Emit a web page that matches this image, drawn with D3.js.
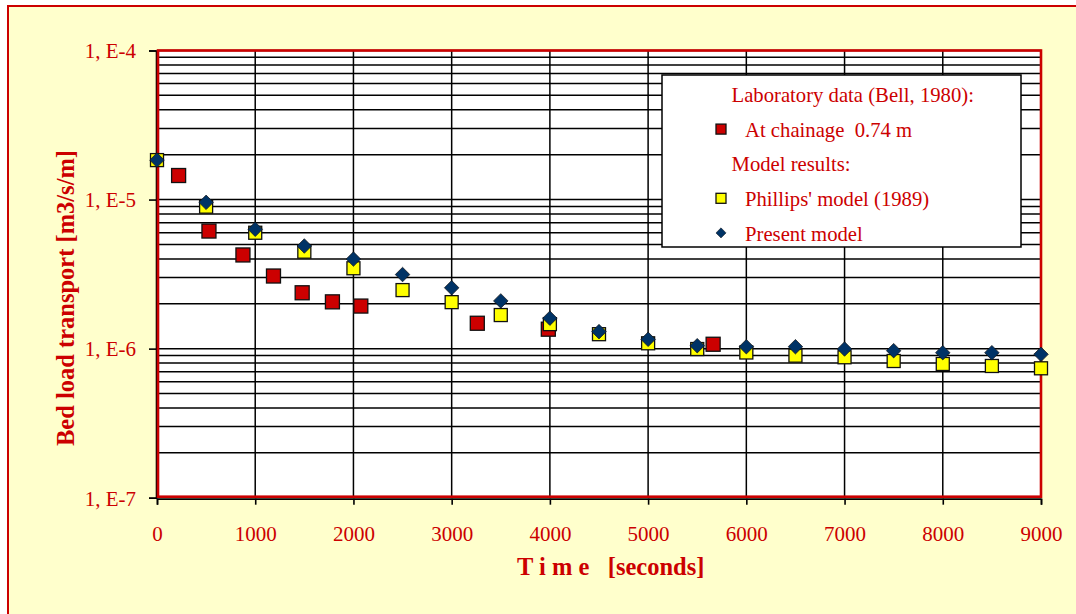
<!DOCTYPE html>
<html>
<head>
<meta charset="utf-8">
<script src="https://cdn.jsdelivr.net/npm/d3@7"></script>
<style>
  body { margin: 0; background: #fff; }
  text { font-family: "Liberation Serif", "Times New Roman", serif; }
</style>
</head>
<body>
<div id="chart"></div>
<script>
// model output times (s)
const modelTimes = [0, 500, 1000, 1500, 2000, 2500, 3000, 3500, 4000, 4500,
                    5000, 5500, 6000, 6500, 7000, 7500, 8000, 8500, 9000];
const phillipsValues = [1.84e-5, 8.96e-6, 5.99e-6, 4.47e-6, 3.46e-6, 2.47e-6, 2.05e-6, 1.68e-6, 1.46e-6, 1.25e-6,
                        1.086e-6, 9.94e-7, 9.42e-7, 8.97e-7, 8.75e-7, 8.26e-7, 7.89e-7, 7.65e-7, 7.38e-7];
const presentValues = [1.84e-5, 9.58e-6, 6.32e-6, 4.88e-6, 3.99e-6, 3.14e-6, 2.56e-6, 2.09e-6, 1.60e-6, 1.30e-6,
                       1.155e-6, 1.046e-6, 1.03e-6, 1.03e-6, 9.94e-7, 9.69e-7, 9.39e-7, 9.39e-7, 9.16e-7];
// Bell (1980) lab data
const labTimes = [220, 529, 875, 1186, 1478, 1786, 2075, 3261, 3984, 5662];
const labValues = [1.45e-5, 6.15e-6, 4.25e-6, 3.07e-6, 2.37e-6, 2.06e-6, 1.93e-6, 1.48e-6, 1.35e-6, 1.07e-6];

const xTicks = [0, 1000, 2000, 3000, 4000, 5000, 6000, 7000, 8000, 9000];
const yTicks = [1e-7, 1e-6, 1e-5, 1e-4];
const yTickLabels = ["1, E-7", "1, E-6", "1, E-5", "1, E-4"];

const legendItems = [
  { label: "Laboratory data (Bell, 1980):", symbol: null },
  { label: "At chainage  0.74 m", symbol: "lab" },
  { label: "Model results:", symbol: null },
  { label: "Phillips' model (1989)", symbol: "phillips" },
  { label: "Present model", symbol: "present" }
];

const red = "#CC0000";
const W = 1076, H = 614;
let margin = {top: 50.5, right: 35, bottom: 116.3, left: 157},
    width = W - margin.left - margin.right,
    height = H - margin.top - margin.bottom;

let root = d3.select("#chart")
  .append("svg")
    .attr("width", W)
    .attr("height", H);

// outer chart area
root.append("rect")
  .attr("x", 8).attr("y", 6)
  .attr("width", W + 20).attr("height", H + 20)
  .attr("fill", "#FFFFCC")
  .attr("stroke", red)
  .attr("stroke-width", 2);

let svg = root.append("g")
  .attr("transform", "translate(" + margin.left + "," + margin.top + ")");

var x = d3.scaleLinear()
  .domain([0, 9000])
  .range([0, width]);

var y = d3.scaleLog()
  .domain([1e-7, 1e-4])
  .range([height, 0]);

svg.append("rect")
  .attr("width", width).attr("height", height)
  .attr("fill", "white");

// gridlines, 1..9 per decade
svg.selectAll("hgrid")
  .data(y.ticks())
  .enter()
  .append("line")
    .attr("x1", 0).attr("x2", width)
    .attr("y1", d => y(d)).attr("y2", d => y(d))
    .attr("stroke", "#000")
    .attr("stroke-width", 1.5);

svg.selectAll("vgrid")
  .data(xTicks)
  .enter()
  .append("line")
    .attr("x1", d => x(d)).attr("x2", d => x(d))
    .attr("y1", 0).attr("y2", height)
    .attr("stroke", "#000")
    .attr("stroke-width", 1.5);

// axes
let xAxis = svg.append("g")
  .attr("transform", "translate(0," + (height + 1) + ")")
  .call(d3.axisBottom(x).tickValues(xTicks).tickSize(6).tickFormat(d3.format("d")));
xAxis.selectAll("text")
  .attr("y", 42).attr("dy", 0)
  .style("fill", red)
  .style("font-size", "21px");

let yAxis = svg.append("g")
  .attr("transform", "translate(-1,0)")
  .call(d3.axisLeft(y).tickValues(yTicks).tickSize(7).tickPadding(13)
        .tickFormat((d, i) => yTickLabels[i]));
yAxis.selectAll("text")
  .attr("dy", "0.35em")
  .style("fill", red)
  .style("font-size", "21px");

[xAxis, yAxis].forEach(a => {
  a.selectAll("line").attr("stroke", "#000").attr("stroke-width", 1.6);
  a.select(".domain").attr("stroke", "#000").attr("stroke-width", 1.6);
});

// plot area border
svg.append("rect")
  .attr("x", 1).attr("y", 0)
  .attr("width", width - 1).attr("height", height - 1)
  .attr("fill", "none")
  .attr("stroke", red)
  .attr("stroke-width", 2.6);

// lab data
svg.selectAll("labPts")
  .data(labTimes.map((t, i) => ({t: t, v: labValues[i]})))
  .enter()
  .append("rect")
    .attr("x", d => x(d.t) - 7).attr("y", d => y(d.v) - 7)
    .attr("width", 14).attr("height", 14)
    .attr("fill", red)
    .attr("stroke", "#111")
    .attr("stroke-width", 1.3);

// Phillips model
svg.selectAll("phPts")
  .data(modelTimes.map((t, i) => ({t: t, v: phillipsValues[i]})))
  .enter()
  .append("rect")
    .attr("x", d => x(d.t) - 6.5).attr("y", d => y(d.v) - 6.5)
    .attr("width", 13).attr("height", 13)
    .attr("fill", "#FFFF00")
    .attr("stroke", "#111")
    .attr("stroke-width", 1.3);

// present model
let diamond = d3.symbol().type(d3.symbolDiamond2).size(135);
svg.selectAll("prPts")
  .data(modelTimes.map((t, i) => ({t: t, v: presentValues[i]})))
  .enter()
  .append("path")
    .attr("d", diamond)
    .attr("transform", d => "translate(" + x(d.t) + "," + y(d.v) + ")")
    .attr("fill", "#003366")
    .attr("stroke", "#111")
    .attr("stroke-width", 0.7);

// legend
let lg = root.append("g").attr("transform", "translate(662,75)");
lg.append("rect")
  .attr("width", 359).attr("height", 172)
  .attr("fill", "white")
  .attr("stroke", "#000")
  .attr("stroke-width", 1.5);

let rows = lg.selectAll("lgRow")
  .data(legendItems)
  .enter()
  .append("g")
    .attr("transform", (d, i) => "translate(0," + (20 + i * 34.6) + ")");

rows.append("text")
  .attr("x", d => d.symbol ? 83 : 69.5)
  .attr("dy", "0.35em")
  .style("fill", red)
  .style("font-size", "20.7px")
  .style("white-space", "pre")
  .text(d => d.label);

rows.filter(d => d.symbol === "lab" || d.symbol === "phillips")
  .append("rect")
    .attr("x", 54).attr("y", -5.5)
    .attr("width", 10).attr("height", 10)
    .attr("fill", d => d.symbol === "lab" ? red : "#FFFF00")
    .attr("stroke", "#111")
    .attr("stroke-width", 1.3);

rows.filter(d => d.symbol === "present")
  .append("path")
    .attr("d", d3.symbol().type(d3.symbolDiamond2).size(65))
    .attr("transform", "translate(59,-0.5)")
    .attr("fill", "#003366")
    .attr("stroke", "#111")
    .attr("stroke-width", 0.5);

// axis titles
root.append("text")
  .attr("transform", "translate(74,298) rotate(-90)")
  .attr("text-anchor", "middle")
  .style("fill", red)
  .style("font-size", "24.5px")
  .style("font-weight", "bold")
  .text("Bed load transport [m3/s/m]");

root.append("text")
  .attr("x", 517).attr("y", 575)
  .style("fill", red)
  .style("font-size", "24.5px")
  .style("font-weight", "bold")
  .style("white-space", "pre")
  .text("T i m e   [seconds]");
</script>
</body>
</html>
